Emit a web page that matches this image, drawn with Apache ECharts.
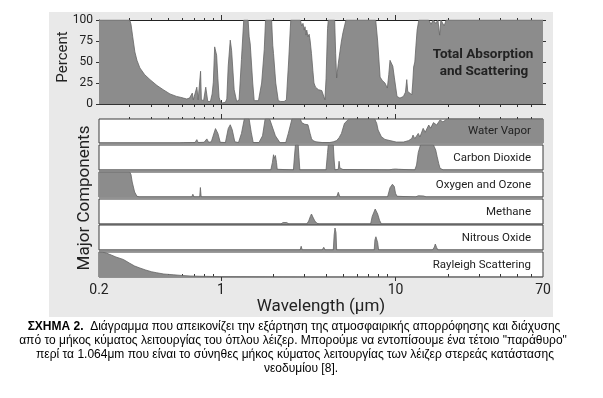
<!DOCTYPE html>
<html><head><meta charset="utf-8">
<script src="https://cdn.jsdelivr.net/npm/echarts@6/dist/echarts.min.js"></script>
<style>html,body{margin:0;padding:0;background:#fff;}#c{width:603px;height:398px;}</style>
</head><body><div id="c"></div>
<script>
// ---------- data ----------
const xMin = 0.2, xMax = 70;
const xTickLabels = [0.2, 1, 10, 70];
const xMinorTicks = [0.3,0.4,0.5,0.6,0.7,0.8,0.9,2,3,4,5,6,7,8,9,20,30,40,50,60];
const xMajorTicks = [1, 10];
const yTicks = [0, 25, 50, 75, 100];
const panelNames = ['Water Vapor','Carbon Dioxide','Oxygen and Ozone','Methane','Nitrous Oxide','Rayleigh Scattering'];
const topTitle = ['Total Absorption', 'and Scattering'];

// [wavelength (µm), percent]
const totalAbs = [[0.2,100],[0.300,100],[0.305,95],[0.312,80],[0.321,62],[0.33,52],[0.343,43],[0.365,35],[0.392,29],[0.43,22],[0.467,17],[0.51,12],[0.557,9],[0.585,8],[0.595,10],[0.61,7],[0.636,6],[0.66,7],[0.675,6],[0.685,13],[0.694,5],[0.71,6],[0.727,20],[0.74,5],[0.755,6],[0.764,39],[0.772,5],[0.795,4],[0.818,20],[0.84,3],[0.87,3],[0.89,12],[0.904,26],[0.92,68],[0.932,66],[0.944,58],[0.96,30],[0.975,8],[1.0,1],[1.06,2],[1.08,6],[1.10,45],[1.13,76],[1.15,64],[1.19,17],[1.23,3],[1.27,5],[1.31,53],[1.35,100],[1.43,100],[1.45,80],[1.47,72],[1.52,25],[1.55,4],[1.64,4],[1.71,25],[1.77,65],[1.80,100],[1.95,100],[1.98,70],[2.0,60],[2.06,25],[2.13,4],[2.2,3],[2.25,5],[2.3,3],[2.37,5],[2.40,25],[2.44,50],[2.51,100],[2.85,100],[2.9,93],[2.95,96],[3.0,88],[3.03,92],[3.07,82],[3.10,88],[3.15,80],[3.2,83],[3.24,76],[3.3,60],[3.36,40],[3.41,25],[3.48,20],[3.54,19],[3.62,17],[3.69,18],[3.78,16],[3.86,15],[3.94,5],[4.0,30],[4.08,90],[4.12,100],[4.48,100],[4.54,60],[4.6,31],[4.7,48],[4.8,62],[4.9,75],[5.0,85],[5.2,100],[7.7,100],[7.9,75],[8.16,32],[8.4,28],[8.7,25],[8.98,19],[9.15,35],[9.3,52],[9.5,50],[9.65,45],[9.84,32],[10.2,9],[10.6,7],[11.1,9],[11.4,14],[11.6,29],[11.75,15],[11.9,13],[12.4,11],[12.55,25],[12.7,44],[12.9,50],[13.1,70],[13.3,88],[13.6,100],[15.5,100],[16.0,95],[16.4,100],[17.0,96],[17.5,100],[17.9,82],[18.2,100],[19.0,93],[19.5,100],[70,100]];

const waterVapor = [[0.2,0],[0.58,0],[0.595,4],[0.61,1],[0.69,2],[0.70,7],[0.71,2],[0.727,14],[0.74,2],[0.8,3],[0.83,17],[0.85,3],[0.88,5],[0.90,28],[0.93,60],[0.944,67],[0.96,40],[0.99,3],[1.06,2],[1.10,60],[1.13,76],[1.16,55],[1.2,5],[1.26,2],[1.31,40],[1.36,100],[1.45,100],[1.49,45],[1.53,2],[1.65,2],[1.73,30],[1.79,100],[1.9,100],[1.98,62],[2.05,30],[2.18,1],[2.35,2],[2.43,40],[2.55,100],[2.85,100],[2.9,85],[2.96,92],[3.02,78],[3.1,70],[3.15,76],[3.24,40],[3.3,19],[3.36,10],[3.5,5],[3.8,2],[4.2,2],[4.4,5],[4.6,10],[4.75,22],[4.9,40],[5.1,82],[5.4,100],[7.6,100],[7.8,82],[7.95,54],[8.3,26],[8.7,15],[9.3,10],[10.1,4],[11.1,4],[11.9,10],[12.4,19],[12.6,33],[12.9,18],[13.5,40],[13.8,25],[14.4,61],[14.8,45],[15.5,75],[15.9,62],[16.5,85],[17.2,75],[18.0,96],[18.7,88],[19.7,100],[70,100]];

const co2 = [[0.2,0],[1.4,0],[1.43,4],[1.46,0],[1.57,0],[1.6,3],[1.63,0],[1.93,0],[1.97,30],[2.0,61],[2.02,47],[2.05,58],[2.08,30],[2.1,3],[2.12,0],[2.6,0],[2.64,60],[2.67,100],[2.77,100],[2.8,50],[2.83,0],[4.0,0],[4.08,70],[4.12,100],[4.4,100],[4.45,40],[4.5,0],[4.7,3],[4.75,35],[4.8,8],[4.9,11],[5.0,2],[5.1,0],[9.2,0],[9.35,4],[9.6,3],[10.0,4],[10.4,3],[10.6,0],[12.9,0],[13.2,20],[13.5,70],[13.9,100],[16.5,100],[17.0,80],[17.3,55],[17.7,25],[18.0,7],[18.8,0],[70,0]];

const o2o3 = [[0.2,100],[0.30,100],[0.305,90],[0.31,60],[0.32,20],[0.33,3],[0.34,0],[0.68,0],[0.69,11],[0.70,0],[0.755,0],[0.762,38],[0.77,0],[1.25,0],[1.27,7],[1.29,0],[4.6,0],[4.7,19],[4.8,0],[9.0,0],[9.1,5],[9.3,37],[9.6,51],[9.84,42],[10.0,15],[10.2,3],[10.4,0],[13,0],[13.5,5],[14.5,4],[15,0],[70,0]];

const methane = [[0.2,0],[1.63,0],[1.66,2],[1.69,0],[2.2,0],[2.27,6],[2.33,11],[2.38,6],[2.45,0],[3.1,0],[3.18,12],[3.25,30],[3.3,40],[3.36,28],[3.45,12],[3.55,3],[3.65,0],[6.4,0],[6.5,3],[6.6,0],[7.2,0],[7.35,30],[7.5,35],[7.65,60],[7.75,55],[7.9,40],[8.1,15],[8.3,0],[70,0]];

const n2o = [[0.2,0],[2.84,0],[2.88,15],[2.92,0],[3.8,0],[3.88,11],[3.95,0],[4.4,0],[4.45,60],[4.5,88],[4.56,70],[4.6,0],[7.55,0],[7.62,40],[7.72,53],[7.8,48],[7.9,30],[8.0,0],[8.5,0],[8.6,3],[8.7,0],[16.3,0],[16.7,12],[16.9,24],[17.2,10],[17.5,0],[70,0]];

const rayleigh = [[0.2,100],[0.21,99],[0.22,96],[0.235,88],[0.25,80],[0.276,70],[0.3,55],[0.32,44],[0.343,36],[0.37,28],[0.4,21],[0.428,17],[0.47,12],[0.533,9],[0.6,6],[0.665,4],[0.75,3],[0.83,2.5],[1.0,1.5],[1.3,1],[2,0.5],[3,0],[70,0]];

const captionLines = [
  ['ΣΧΗΜΑ 2.', '  Διάγραμμα που απεικονίζει την εξάρτηση της ατμοσφαιρικής απορρόφησης και διάχυσης'],
  ['', 'από το μήκος κύματος λειτουργίας του όπλου λέιζερ. Μπορούμε να εντοπίσουμε ένα τέτοιο "παράθυρο"'],
  ['', 'περί τα 1.064μm που είναι το σύνηθες μήκος κύματος λειτουργίας των λέιζερ στερεάς κατάστασης'],
  ['', 'νεοδυμίου [8].']
];

// ---------- layout ----------
const FONT = 'Roboto, "Noto Sans", sans-serif';
const CAPFONT = '"Liberation Sans", Arial, sans-serif';
const plotLeft = 99, plotWidth = 444;
const panelTops = [119,145,172,199,225,252];
const panelBottoms = [143,170,197,224,250,277];
const FILL = '#8c8c8c', EDGE = '#666', AX = '#333';

const chart = echarts.init(document.getElementById('c'), null, {renderer:'canvas', width:603, height:398});

const grids = [{left:plotLeft, top:20, width:plotWidth, height:84, show:true, backgroundColor:'#fff', borderWidth:0}];
panelTops.forEach((t,i)=>grids.push({left:plotLeft, top:t, width:plotWidth, height:panelBottoms[i]-t, show:true, backgroundColor:'#fff', borderColor:'#3a3a3a', borderWidth:1}));

function xAx(gridIndex, o) {
  return Object.assign({type:'log', logBase:10, min:xMin, max:xMax, gridIndex, position:'bottom',
    axisLine:{show:false, onZero:false}, axisTick:{show:false}, axisLabel:{show:false},
    splitLine:{show:false}, minorTick:{show:false}, minorSplitLine:{show:false}}, o||{});
}
function ticks(vals, len, inside) { return {show:true, customValues:vals, length:len, inside:!!inside, lineStyle:{color:AX, width:1}}; }

const xAxes = [
  xAx(0, {position:'bottom', axisLine:{show:true, onZero:false, lineStyle:{color:AX, width:1}}, axisTick:ticks(xMinorTicks,3)}), //0
  xAx(0, {position:'bottom', axisTick:ticks(xMajorTicks,5)}), //1
  xAx(0, {position:'bottom', axisTick:ticks(xMajorTicks,4,true)}), //2
  xAx(0, {position:'top', axisLine:{show:true, onZero:false, lineStyle:{color:'#222', width:1.2}}, axisTick:ticks(xMinorTicks,2)}), //3
  xAx(0, {position:'top', axisTick:ticks(xMajorTicks,5)}), //4
  xAx(1, {position:'top', axisTick:ticks(xMinorTicks,2)}), //5
  xAx(1, {position:'top', axisTick:ticks(xMajorTicks,5)}), //6
  xAx(2), xAx(3), xAx(4), xAx(5), //7-10
  xAx(6, {position:'bottom', axisTick:ticks(xMinorTicks,3,true),
    axisLabel:{show:true, customValues:xTickLabels, margin:6, fontSize:14, color:'#222', fontFamily:FONT,
      formatter:(v)=>String(+(+v).toPrecision(3))},
    name:'Wavelength (μm)', nameLocation:'middle', nameGap:19,
    nameTextStyle:{fontSize:17, color:'#222', fontFamily:FONT}}), //11
  xAx(6, {position:'bottom', axisTick:ticks(xMajorTicks,4)}) //12
];
const dataX = [0,5,7,8,9,10,11];

function yAx(gridIndex, o) {
  return Object.assign({type:'value', min:0, max:100, interval:25, gridIndex,
    axisLine:{show:false, onZero:false}, axisTick:{show:false}, axisLabel:{show:false}, splitLine:{show:false}}, o||{});
}
const yAxes = [
  yAx(0, {position:'left', axisLine:{show:true, onZero:false, lineStyle:{color:AX}},
    axisTick:{show:true, length:3, lineStyle:{color:AX}},
    axisLabel:{show:true, margin:6, fontSize:12, color:'#222', fontFamily:FONT,
      customValues: yTicks}}),
  yAx(0, {position:'right', axisTick:{show:true, length:3, lineStyle:{color:AX}}})
];
for (let g=1; g<=6; g++) yAxes.push(yAx(g));
const dataY = [0,2,3,4,5,6,7];

const seriesData = [totalAbs, waterVapor, co2, o2o3, methane, n2o, rayleigh];
const series = seriesData.map((d,i)=>({
  type:'line', data:d, xAxisIndex:dataX[i], yAxisIndex:dataY[i],
  symbol:'none', showSymbol:false, silent:true, animation:false,
  lineStyle:{color:EDGE, width:0.8}, areaStyle:{color:FILL, opacity:1}, z:2
}));

const graphic = [
  {type:'rect', z:-100, silent:true, shape:{x:49, y:12, width:504, height:305}, style:{fill:'#e9e9e9'}},
  {type:'text', x:63, y:57, rotation:Math.PI/2, style:{text:'Percent', fontSize:15, fontFamily:FONT, fill:'#222', align:'center', verticalAlign:'middle'}},
  {type:'text', x:85, y:198, rotation:Math.PI/2, style:{text:'Major Components', fontSize:17, fontFamily:FONT, fill:'#222', align:'center', verticalAlign:'middle'}},
  {type:'text', x:483, y:55, z:10, style:{text:topTitle[0], fontSize:13.5, fontWeight:'bold', fontFamily:FONT, fill:'#222', align:'center', verticalAlign:'middle'}},
  {type:'text', x:484, y:71.5, z:10, style:{text:topTitle[1], fontSize:13.5, fontWeight:'bold', fontFamily:FONT, fill:'#222', align:'center', verticalAlign:'middle'}}
];
panelNames.forEach((n,i)=>graphic.push({type:'text', x:531, y:(panelTops[i]+panelBottoms[i])/2+0.5, z:10,
  style:{text:n, fontSize:11.5, fontFamily:FONT, fill:'#222', align:'right', verticalAlign:'middle'}}));
const capX = [294, 293, 295, 301], capY = [327, 341, 355, 369];
captionLines.forEach((ln,i)=>graphic.push({type:'text', x:capX[i], y:capY[i],
  style:{text:(ln[0]?'{b|'+ln[0]+'}':'')+ln[1], fontSize:12, fontFamily:CAPFONT, fill:'#000', align:'center', verticalAlign:'middle',
    rich:{b:{fontWeight:'bold', fontSize:12, fontFamily:CAPFONT, fill:'#000'}}}}));

chart.setOption({animation:false, backgroundColor:'#fff', grid:grids, xAxis:xAxes, yAxis:yAxes, series, graphic});
</script></body></html>
